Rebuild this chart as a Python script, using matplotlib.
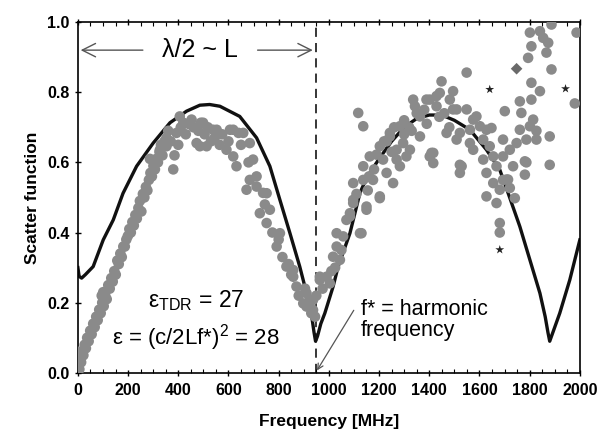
import matplotlib
matplotlib.use("Agg")
import matplotlib.pyplot as plt
from matplotlib.ticker import MultipleLocator

# ---- data ----
model_freq = [0, 5, 15, 30, 61, 101, 141, 180, 234, 300, 367, 433, 486, 525, 566, 645, 712, 765,
              805, 845, 884, 918, 932, 941, 947, 955, 968, 984, 1017, 1037, 1084, 1124, 1150, 1200,
              1250, 1300, 1350, 1400, 1450, 1500, 1562, 1628, 1681, 1714, 1761, 1801, 1841, 1862,
              1873, 1880, 1890, 1920, 1960, 2000]
model_sf = [0.30, 0.275, 0.27, 0.28, 0.303, 0.379, 0.436, 0.512, 0.589, 0.655, 0.713, 0.746, 0.763,
            0.765, 0.760, 0.731, 0.670, 0.589, 0.493, 0.398, 0.303, 0.208, 0.16, 0.115, 0.09, 0.105,
            0.14, 0.17, 0.246, 0.303, 0.398, 0.513, 0.555, 0.61, 0.66, 0.70, 0.725, 0.735, 0.735,
            0.72, 0.693, 0.636, 0.579, 0.513, 0.417, 0.322, 0.227, 0.16, 0.115, 0.09, 0.11, 0.17,
            0.265, 0.379]

meas_freq = [
    0, 2, 4, 6, 9, 13, 17, 22, 27, 32, 37, 43, 49, 55, 61, 67, 73, 79, 85, 91, 97, 103, 109, 115,
    121, 127, 133, 139, 145, 151, 157, 163, 169, 175, 181, 187, 193, 199, 205, 211, 217, 223, 229,
    235, 241, 247, 253, 259, 265, 271, 277, 283, 289, 295, 301, 307, 313, 319, 325, 331, 337,
    95, 101, 287, 327,
    345, 353, 353, 360, 370, 380, 385, 393, 400, 406, 410, 420, 430, 440, 453, 460, 473, 480, 486,
    490, 499, 505, 513, 518, 530, 539, 545, 553, 565, 575, 592, 600, 606, 619, 619, 632, 640, 650,
    659, 672, 680, 685, 685, 698, 712, 712, 725, 738, 745, 752, 752, 765, 775, 792, 800, 805, 815,
    831, 840, 850, 858, 858, 871, 880, 898, 905, 911, 911, 920, 924, 930, 937, 937, 945, 950,
    964, 964, 975, 991, 1004, 1010, 1017, 1025, 1031, 1031, 1044, 1050, 1057, 1070, 1084, 1084,
    1097, 1097, 1097, 1110, 1117, 1124, 1130, 1137, 1137, 1137, 1150, 1150, 1155, 1163, 1176, 1190,
    1203, 1203, 1203, 1216, 1230, 1243, 1243, 1256, 1270, 1270, 1283, 1283, 1296, 1309, 1323, 1336,
    1343, 1363, 1363, 1389, 1402, 1402, 1409, 1416, 1416, 1429, 1429, 1442, 1449, 1469, 1482, 1495,
    1495, 1509, 1509, 1522, 1522, 1522, 1529, 1549, 1549,
    1230, 1260, 1300, 1320, 1350, 1380, 1390, 1440, 1460, 1480, 1300, 1330, 1250, 1180, 1160, 1220,
    1562, 1562, 1575, 1575, 1588, 1602, 1615, 1615, 1628, 1628, 1628, 1641, 1648, 1655, 1655, 1668,
    1668, 1681, 1681, 1681, 1694, 1694, 1694, 1701, 1708, 1714, 1721, 1721, 1734, 1741, 1748, 1761,
    1761, 1767, 1781, 1781, 1787, 1787, 1801, 1807, 1814, 1807, 1827, 1827, 1841, 1880, 1880, 1980,
    1887, 1794, 1867, 1807, 1874, 1854, 1801, 1841, 1887, 1987]
meas_sf = [
    0.005, 0.03, 0.06, 0.01, 0.04, 0.03, 0.06, 0.05, 0.08, 0.07, 0.10, 0.09, 0.12, 0.11, 0.14,
    0.13, 0.16, 0.15, 0.18, 0.17, 0.20, 0.19, 0.22, 0.21, 0.25, 0.24, 0.27, 0.26, 0.29, 0.28, 0.32,
    0.31, 0.34, 0.33, 0.36, 0.36, 0.38, 0.39, 0.41, 0.40, 0.43, 0.42, 0.45, 0.44, 0.47, 0.49, 0.46,
    0.51, 0.50, 0.53, 0.52, 0.55, 0.57, 0.56, 0.59, 0.58, 0.61, 0.60, 0.63, 0.65, 0.62,
    0.22, 0.23, 0.61, 0.636,
    0.66, 0.646, 0.67, 0.69, 0.66, 0.58, 0.62, 0.684, 0.65, 0.731, 0.70, 0.713, 0.68, 0.71, 0.722,
    0.70, 0.655, 0.69, 0.646, 0.713, 0.713, 0.68, 0.646, 0.70, 0.66, 0.693, 0.67, 0.693, 0.65, 0.68,
    0.636, 0.66, 0.693, 0.693, 0.617, 0.589, 0.684, 0.65, 0.684, 0.522, 0.60, 0.655, 0.55, 0.608,
    0.560, 0.531, 0.455, 0.513, 0.48, 0.512, 0.427, 0.465, 0.40, 0.36, 0.38, 0.398, 0.33, 0.303,
    0.31, 0.28, 0.274, 0.293, 0.246, 0.22, 0.198, 0.24, 0.227, 0.189, 0.20, 0.208, 0.17, 0.208,
    0.179, 0.16, 0.22,
    0.265, 0.274, 0.24, 0.274, 0.255, 0.29, 0.331, 0.30, 0.36, 0.398, 0.322, 0.35, 0.389, 0.436,
    0.455, 0.446, 0.493, 0.541, 0.484, 0.51, 0.741, 0.398, 0.398, 0.703, 0.55, 0.589, 0.465, 0.474,
    0.52, 0.617, 0.55, 0.622, 0.498, 0.646, 0.503, 0.608, 0.570, 0.684, 0.674, 0.541, 0.636, 0.608,
    0.703, 0.589, 0.655, 0.617, 0.636, 0.779, 0.76, 0.731, 0.674, 0.779, 0.779, 0.617, 0.627, 0.598,
    0.627, 0.789, 0.76, 0.798, 0.831, 0.684, 0.779, 0.751, 0.803, 0.751, 0.665, 0.684, 0.593, 0.57,
    0.589, 0.751, 0.856,
    0.66, 0.70, 0.72, 0.70, 0.74, 0.75, 0.71, 0.73, 0.74, 0.70, 0.68, 0.69, 0.63, 0.58, 0.56, 0.66,
    0.693, 0.655, 0.722, 0.636, 0.731, 0.703, 0.665, 0.608, 0.693, 0.57, 0.503, 0.646, 0.698, 0.617,
    0.541, 0.484, 0.589, 0.522, 0.427, 0.40, 0.617, 0.665, 0.55, 0.746, 0.551, 0.551, 0.636, 0.527,
    0.589, 0.498, 0.655, 0.693, 0.774, 0.741, 0.603, 0.565, 0.665, 0.6, 0.703, 0.779, 0.722, 0.827,
    0.665, 0.69, 0.803, 0.674, 0.593, 0.768, 0.865, 0.898, 0.913, 0.931, 0.941, 0.955, 0.970, 0.974,
    0.993, 0.970]

diamond_freq = [1748]
diamond_sf = [0.867]
outlier_freq = [1641, 1943, 1681]
outlier_sf = [0.808, 0.810, 0.351]

harmonic_freq = 947
x_ticks = [0, 200, 400, 600, 800, 1000, 1200, 1400, 1600, 1800, 2000]
y_ticks = [0.0, 0.2, 0.4, 0.6, 0.8, 1.0]

# ---- figure ----
plt.rcParams['font.family'] = ['Liberation Sans', 'DejaVu Sans']
fig = plt.figure(figsize=(5.99, 4.33), dpi=100)
ax = fig.add_axes([0.130, 0.139, 0.838, 0.810])

ax.plot(model_freq, model_sf, color='#111111', lw=2.4, zorder=2, solid_joinstyle='round')
ax.scatter(meas_freq, meas_sf, s=58, color='#8a8a8a', edgecolors='none', zorder=3)
ax.scatter(diamond_freq, diamond_sf, s=35, marker='D', color='#6a6a6a', edgecolors='none', zorder=3)
ax.scatter(outlier_freq, outlier_sf, s=45, marker='*', color='#222222', edgecolors='none', zorder=4)

ax.axvline(harmonic_freq, color='black', lw=1.1, ls=(0, (6, 4)), zorder=1)

ax.set_xlim(0, 2000)
ax.set_ylim(0, 1.0)
ax.set_xticks(x_ticks)
ax.set_yticks(y_ticks)
ax.set_yticklabels([f"{v:.1f}" for v in y_ticks])
ax.xaxis.set_minor_locator(MultipleLocator(50))
ax.tick_params(axis='both', which='major', direction='inout', length=5, width=1,
               labelsize=11.5, top=True, right=False)
ax.tick_params(axis='x', which='major', pad=5)
ax.tick_params(axis='both', which='minor', direction='in', length=3, width=0.8, top=True)
for lab in ax.get_xticklabels() + ax.get_yticklabels():
    lab.set_fontweight('bold')
for sp in ax.spines.values():
    sp.set_linewidth(1.2)

ax.set_xlabel('Frequency [MHz]', fontsize=12.5, fontweight='bold', labelpad=11)
ax.set_ylabel('Scatter function', fontsize=12.5, fontweight='bold', labelpad=5)

# lambda/2 annotation
ax.text(486, 0.92, 'λ/2 ~ L', fontsize=18, ha='center', va='center')
ax.annotate('', xy=(0, 0.92), xytext=(270, 0.92),
            arrowprops=dict(arrowstyle='->', color='#555555', lw=1.0, mutation_scale=24))
ax.annotate('', xy=(harmonic_freq, 0.92), xytext=(705, 0.92),
            arrowprops=dict(arrowstyle='->', color='#555555', lw=1.0, mutation_scale=24))

ax.text(470, 0.205, r'$\mathregular{\varepsilon_{TDR}}$ = 27', fontsize=16.5, ha='center', va='center')
ax.text(470, 0.10, r'ε = (c/2Lf*)$\mathregular{^2}$ = 28', fontsize=16, ha='center', va='center')

ax.text(1128, 0.15, 'f* = harmonic\nfrequency', fontsize=15.5, ha='left', va='center',
        linespacing=1.0)
ax.annotate('', xy=(harmonic_freq, 0.0), xytext=(1105, 0.185),
            arrowprops=dict(arrowstyle='->', color='#555555', lw=0.9, mutation_scale=10))

fig.savefig('out.png', dpi=100)
